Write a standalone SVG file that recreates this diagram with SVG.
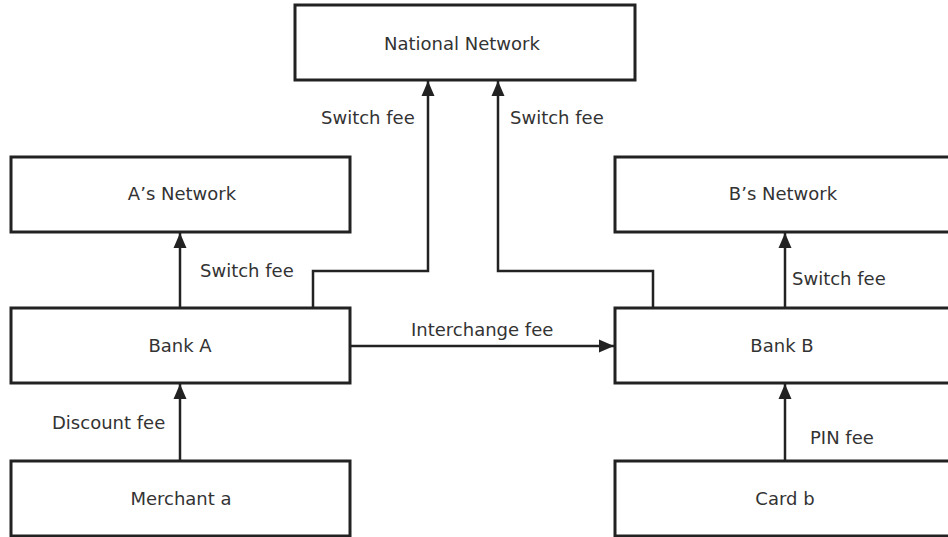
<svg xmlns="http://www.w3.org/2000/svg" width="948" height="537" viewBox="0 0 948 537">
<style>
.box{fill:#fff;stroke:#222;stroke-width:3}
.t{font-family:"DejaVu Sans",sans-serif;font-size:18px;fill:#333;text-anchor:middle}
.l{font-family:"DejaVu Sans",sans-serif;font-size:18px;fill:#333}
.c{fill:none;stroke:#222;stroke-width:2.5}
</style>
<defs>
<marker id="ah" markerUnits="userSpaceOnUse" markerWidth="16" markerHeight="16" viewBox="0 0 16 16" refX="15" refY="8" orient="auto">
<path d="M0,1.5 L15,8 L0,14.5 Z" fill="#222"/>
</marker>
</defs>
<rect width="948" height="537" fill="#fff"/>
<g id="national"><rect class="box" x="295" y="5" width="340" height="75"/><text class="t" x="462" y="50">National Network</text></g>
<g id="anet"><rect class="box" x="11" y="157" width="339" height="75"/><text class="t" x="182" y="200">A’s Network</text></g>
<g id="bnet"><rect class="box" x="615" y="157" width="339" height="75"/><text class="t" x="783" y="200">B’s Network</text></g>
<g id="banka"><rect class="box" x="11" y="308" width="339" height="75"/><text class="t" x="180" y="352">Bank A</text></g>
<g id="bankb"><rect class="box" x="615" y="308" width="339" height="75"/><text class="t" x="782" y="352">Bank B</text></g>
<g id="merchant"><rect class="box" x="11" y="461" width="339" height="75"/><text class="t" x="181" y="505">Merchant a</text></g>
<g id="card"><rect class="box" x="615" y="461" width="339" height="75"/><text class="t" x="785" y="505">Card b</text></g>
<g id="connectors">
<path class="c" d="M180,308 V233" marker-end="url(#ah)"/>
<path class="c" d="M180,461 V384" marker-end="url(#ah)"/>
<path class="c" d="M785,308 V233" marker-end="url(#ah)"/>
<path class="c" d="M785,461 V384" marker-end="url(#ah)"/>
<path class="c" d="M313,308 V271 H428 V81" marker-end="url(#ah)"/>
<path class="c" d="M653,308 V271 H498 V81" marker-end="url(#ah)"/>
<path class="c" d="M350,346 H614" marker-end="url(#ah)"/>
</g>
<g id="labels">
<text class="l" x="321" y="124">Switch fee</text>
<text class="l" x="510" y="124">Switch fee</text>
<text class="l" x="200" y="277">Switch fee</text>
<text class="l" x="792" y="285">Switch fee</text>
<text class="l" x="411" y="336">Interchange fee</text>
<text class="l" x="52" y="429">Discount fee</text>
<text class="l" x="810" y="444">PIN fee</text>
</g>
</svg>
